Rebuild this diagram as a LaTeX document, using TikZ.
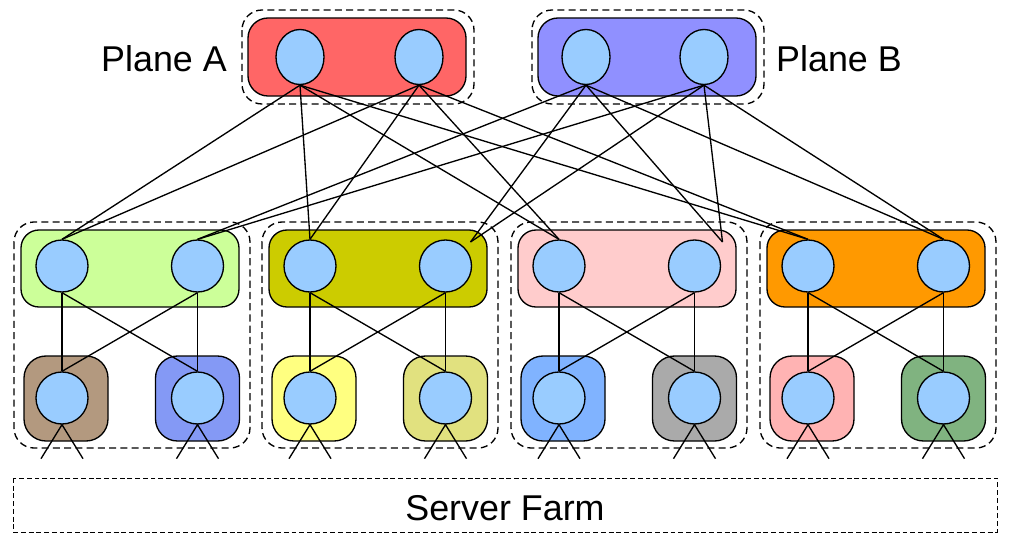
\documentclass[tikz,border=0pt]{standalone}
\usepackage{fontspec}
\setmainfont{Liberation Sans}
\usetikzlibrary{shapes.geometric}

\definecolor{swblue}{HTML}{99CCFF}
\definecolor{planeA}{HTML}{FF6666}
\definecolor{planeB}{HTML}{9090FF}
\definecolor{topA}{HTML}{CCFF99}
\definecolor{topB}{HTML}{CCCC00}
\definecolor{topC}{HTML}{FFCCCC}
\definecolor{topD}{HTML}{FF9900}
\definecolor{torA}{HTML}{B3997F}
\definecolor{torB}{HTML}{8499F5}
\definecolor{torC}{HTML}{FFFF80}
\definecolor{torD}{HTML}{E1E17F}
\definecolor{torE}{HTML}{80B3FF}
\definecolor{torF}{HTML}{AAAAAA}
\definecolor{torG}{HTML}{FFB3B3}
\definecolor{torH}{HTML}{80B380}

\begin{document}
\begin{tikzpicture}[x=0.025cm, y=-0.025cm, line width=0.95pt,
  sw/.style={circle, draw, fill=swblue, minimum size=1.3cm, inner sep=0pt},
  spn/.style={ellipse, draw, fill=swblue, minimum width=1.2cm, minimum height=1.375cm, inner sep=0pt},
  grp/.style={draw, dash pattern=on 5pt off 3pt, rounded corners=0.5cm},
  lbl/.style={font=\fontsize{25.5}{30}\selectfont}]
\useasboundingbox (0,0) rectangle (1011,545);

% spine planes
\draw [grp] (242,10) rectangle (474,104);
\draw [fill=planeA, rounded corners=0.5cm] (248,18) rectangle (466,96);
\node [spn] (a1) at (300,57) {};
\node [spn] (a2) at (419,57) {};
\node [lbl] (la) at (164,59) {Plane A};

\draw [grp] (532,10) rectangle (764,104);
\draw [fill=planeB, rounded corners=0.5cm] (538,18) rectangle (756,96);
\node [spn] (b1) at (586,57) {};
\node [spn] (b2) at (704,57) {};
\node [lbl] (lb) at (839,59) {Plane B};

% pods
\foreach \i/\x/\ct/\cl/\cr in {1/62/topA/torA/torB, 2/310/topB/torC/torD,
                               3/559/topC/torE/torF, 4/808/topD/torG/torH} {
    \draw [grp] (\x-48,222) rectangle (\x+188,448);
    \draw [fill=\ct, rounded corners=0.45cm] (\x-41,230) rectangle (\x+177,307);
    \draw [fill=\cl, rounded corners=0.55cm] (\x-38,356) rectangle (\x+46,441);
    \draw [fill=\cr, rounded corners=0.55cm] (\x+93.5,356) rectangle (\x+177.5,441);
    \node [sw] (fl\i) at (\x,266) {};
    \node [sw] (fr\i) at (\x+135.5,266) {};
    \node [sw] (tl\i) at (\x,398) {};
    \node [sw] (tr\i) at (\x+135.5,398) {};
    \draw (fl\i.south) -- (tl\i.north);
    \draw (fl\i.south) -- (tr\i.north);
    \draw (fr\i.south) -- (tl\i.north);
    \draw (fr\i.south) -- (tr\i.north);
    % links down to the servers
    \coordinate (sl\i a) at ([shift={(-21,34)}]tl\i.south);
    \coordinate (sl\i b) at ([shift={(21,34)}]tl\i.south);
    \coordinate (sr\i a) at ([shift={(-21,34)}]tr\i.south);
    \coordinate (sr\i b) at ([shift={(21,34)}]tr\i.south);
    \draw (sl\i a) -- (tl\i.south) -- (sl\i b);
    \draw (sr\i a) -- (tr\i.south) -- (sr\i b);
    % plane A goes to the left switch of every pod
    \draw (a1.south) -- (fl\i.north);
    \draw (a2.south) -- (fl\i.north);
}

% plane B goes to the right switch of every pod
\coordinate (k2) at ([shift={(25,-24)}]fr2.center);
\coordinate (k3) at ([shift={(28,-24)}]fr3.center);
\draw (b1.south) -- (fr1.north);
\draw (b2.south) -- (fr1.north);
\draw (b1.south) -- (k2);
\draw (b2.south) -- (k2);
\draw (b1.south) -- (k3);
\draw (b2.south) -- (k3);
\draw (b1.south) -- (fr4.north);
\draw (b2.south) -- (fr4.north);

% servers
\draw [line width=0.6pt, dash pattern=on 3.5pt off 2pt] (13,478) rectangle (997,532);
\node [lbl] (farm) at (505,508) {Server Farm};

\end{tikzpicture}
\end{document}
